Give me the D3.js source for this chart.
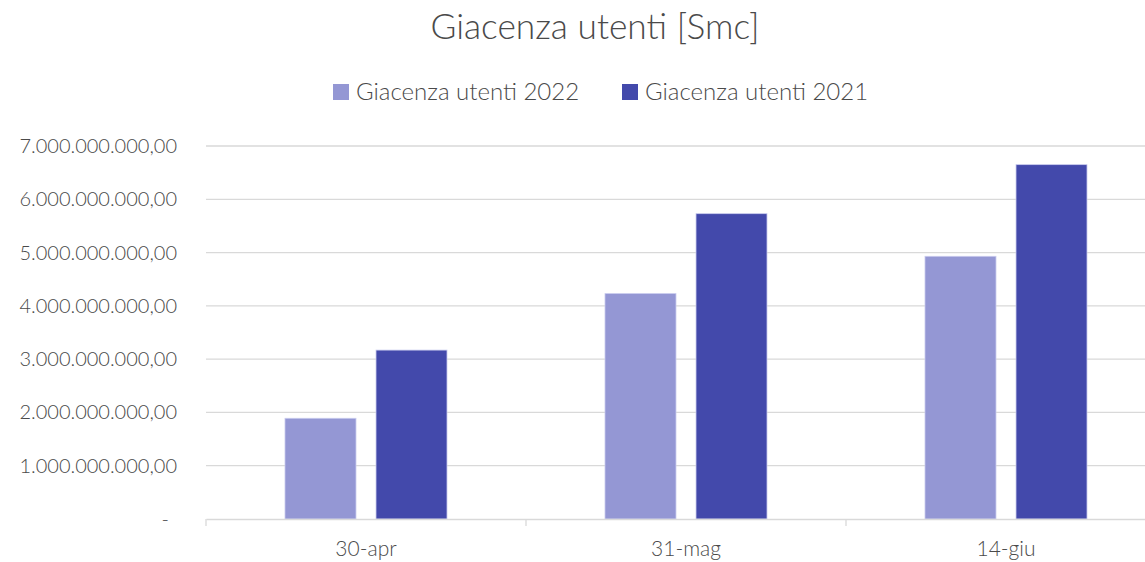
<!DOCTYPE html>
<html>
<head>
<meta charset="utf-8">
<script src="https://cdn.jsdelivr.net/npm/d3@7"></script>
<style>
  body { margin: 0; background: #fff; }
  svg { display: block; font-family: Lato, "Open Sans", sans-serif; font-weight: 300; }
</style>
</head>
<body>
<svg id="chart" width="1145" height="562"></svg>
<script>
// data
var categories = ["30-apr", "31-mag", "14-giu"];
var seriesNames = ["Giacenza utenti 2022", "Giacenza utenti 2021"];
var values2022 = [1890000000, 4230000000, 4930000000];
var values2021 = [3170000000, 5730000000, 6650000000];
var yTicks = [0, 1e9, 2e9, 3e9, 4e9, 5e9, 6e9, 7e9];

var colors = ["#9497d4", "#4349ab"];
var textColor = "#4a4a4a";

var svg = d3.select("#chart");

var x = d3.scaleBand().domain(categories).range([206, 1166]);
var xInner = d3.scaleBand().domain(seriesNames).range([79, 241]).paddingInner(0.22);
var y = d3.scaleLinear().domain([0, 7e9]).range([519, 146]);

var fmt = function (v) {
  if (v === 0) return "-";
  return d3.format(",.2f")(v).replace(/,/g, "#").replace(".", ",").replace(/#/g, ".");
};

// gridlines
svg.append("g")
  .selectAll("line")
  .data(yTicks.filter(function (d) { return d > 0; }))
  .enter().append("line")
  .attr("x1", 206).attr("x2", 1166)
  .attr("y1", function (d) { return y(d); })
  .attr("y2", function (d) { return y(d); })
  .attr("stroke", "#d9d9d9").attr("stroke-width", 1.3);

// y labels
svg.append("g")
  .selectAll("text")
  .data(yTicks)
  .enter().append("text")
  .attr("x", function (d) { return d === 0 ? 169 : 177; })
  .attr("y", function (d) { return y(d); })
  .attr("dy", "0.35em")
  .attr("text-anchor", "end")
  .attr("fill", textColor)
  .style("font-size", "20px")
  .text(fmt);

// bars
var rows = categories.map(function (c, i) {
  return { cat: c, vals: [values2022[i], values2021[i]] };
});
var groups = svg.append("g").selectAll("g")
  .data(rows)
  .enter().append("g")
  .attr("transform", function (d) { return "translate(" + x(d.cat) + ",0)"; });

groups.selectAll("rect")
  .data(function (d) { return d.vals.map(function (v, j) { return { name: seriesNames[j], v: v, j: j }; }); })
  .enter().append("rect")
  .attr("x", function (d) { return xInner(d.name); })
  .attr("width", xInner.bandwidth())
  .attr("y", function (d) { return y(d.v); })
  .attr("height", function (d) { return y(0) - y(d.v); })
  .attr("fill", function (d) { return colors[d.j]; })
  .attr("stroke", "#c9cbee")
  .attr("stroke-width", 0.8);

// x axis
var xAxis = svg.append("g")
  .attr("transform", "translate(0,519)")
  .call(d3.axisBottom(x).tickSize(0).tickPadding(22));
xAxis.select(".domain").attr("stroke", "#d9d9d9").attr("stroke-width", 1.3);
xAxis.selectAll("text").attr("fill", textColor).style("font-size", "21px")
  .style("font-family", "Lato, 'Open Sans', sans-serif").style("font-weight", 300);
svg.append("g")
  .selectAll("line")
  .data(categories)
  .enter().append("line")
  .attr("x1", function (d) { return x(d); })
  .attr("x2", function (d) { return x(d); })
  .attr("y1", 519).attr("y2", 526)
  .attr("stroke", "#d9d9d9").attr("stroke-width", 1.3);

// title
svg.append("text")
  .attr("x", 595).attr("y", 39)
  .attr("text-anchor", "middle")
  .attr("fill", textColor)
  .style("font-size", "35.3px")
  .text("Giacenza utenti [Smc]");

// legend
var legendX = [333, 622];
var legend = svg.append("g").selectAll("g")
  .data(seriesNames)
  .enter().append("g")
  .attr("transform", function (d, i) { return "translate(" + legendX[i] + ",84)"; });
legend.append("rect")
  .attr("width", 16).attr("height", 16)
  .attr("fill", function (d, i) { return colors[i]; });
legend.append("text")
  .attr("x", 23).attr("y", 8)
  .attr("dy", "0.35em")
  .attr("fill", textColor)
  .style("font-size", "24px")
  .text(function (d) { return d; });
</script>
</body>
</html>
